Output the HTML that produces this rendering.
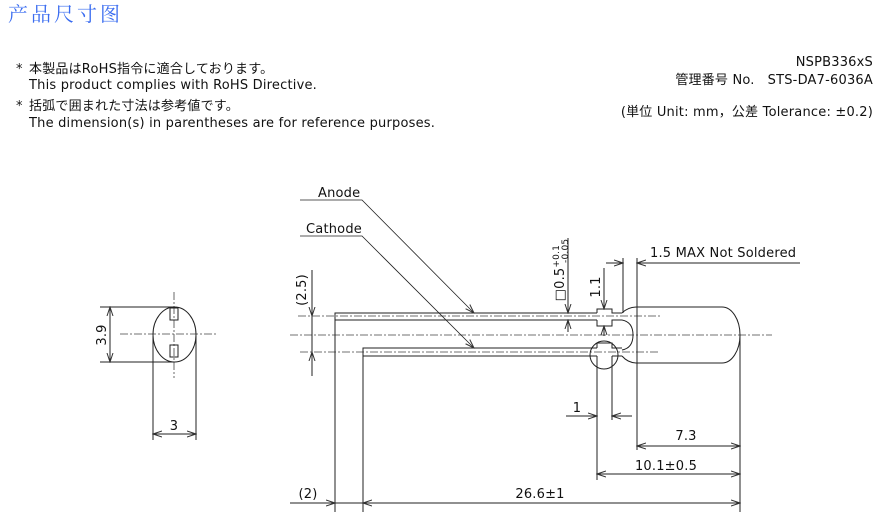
<!DOCTYPE html>
<html><head><meta charset="utf-8"><style>
body{margin:0;background:#fff;width:887px;height:526px;overflow:hidden}
svg{display:block}
text{font-family:"DejaVu Sans","Noto Sans CJK JP",sans-serif;font-size:13px;fill:#111;letter-spacing:0.2px}
</style></head><body>
<svg width="887" height="526" viewBox="0 0 887 526" xmlns="http://www.w3.org/2000/svg">
<defs>
<marker id="a" markerWidth="10" markerHeight="8" refX="9" refY="4" orient="auto" markerUnits="userSpaceOnUse">
<path d="M0,1 L9,4 L0,7" fill="none" stroke="#333" stroke-width="1"/></marker>
</defs>
<text x="8" y="21" style="font-family:'Noto Serif CJK SC',serif;font-size:20px;fill:#3a6cf0;letter-spacing:3px">产品尺寸图</text>
<text x="16" y="73">*</text><text x="29" y="73">本製品はRoHS指令に適合しております。</text>
<text x="29" y="89">This product complies with RoHS Directive.</text>
<text x="16" y="110">*</text><text x="29" y="110">括弧で囲まれた寸法は参考値です。</text>
<text x="29" y="127">The dimension(s) in parentheses are for reference purposes.</text>
<text x="873" y="66" text-anchor="end">NSPB336xS</text>
<text x="873" y="84" text-anchor="end" xml:space="preserve">管理番号 No.   STS-DA7-6036A</text>
<text x="873" y="116" text-anchor="end">(単位 Unit: mm，公差 Tolerance: ±0.2)</text>

<g fill="none" stroke="#222" stroke-width="1">
<g stroke="#444" stroke-dasharray="8,2,2,2" stroke-width="0.8">
<line x1="290" y1="335" x2="772" y2="335"/>
<line x1="298" y1="316" x2="660" y2="316"/>
<line x1="300" y1="352" x2="660" y2="352"/>
<line x1="120" y1="334" x2="218" y2="334"/>
<line x1="174" y1="292" x2="174" y2="378"/>
</g>
<path d="M335,512 V313 H597 M335,320 H597"/>
<path d="M363,512 V348 H597 M363,356 H597"/>
<path d="M597,313 V309 H612 V313 H622 M597,320 V326 H612 V320 H622"/>
<path d="M597,348 V343 H612 V348 H622 M612,356 H622"/>
<path d="M597,356 V480 M612,356 V420"/>
<circle cx="604" cy="355" r="14"/>
<path d="M622,313 Q628,307 637,307 H722 A18,28 0 0 1 722,363 H637 Q628,363 622,356"/>
<path d="M622,320 Q633,322 633,335 Q633,348 622,350"/>
<line x1="637" y1="307" x2="637" y2="450"/>
<line x1="623" y1="258" x2="623" y2="313"/>
<line x1="637" y1="258" x2="637" y2="307"/>
<line x1="740" y1="335" x2="740" y2="512"/>
<line x1="606" y1="263" x2="623" y2="263" marker-end="url(#a)"/>
<line x1="800" y1="263" x2="637" y2="263" marker-end="url(#a)"/>
<line x1="568" y1="238" x2="568" y2="313" marker-end="url(#a)"/>
<line x1="568" y1="332" x2="568" y2="320" marker-end="url(#a)"/>
<line x1="604" y1="268" x2="604" y2="309" marker-end="url(#a)"/>
<line x1="604" y1="336" x2="604" y2="326" marker-end="url(#a)"/>
<line x1="312" y1="270" x2="312" y2="316" marker-end="url(#a)"/>
<line x1="312" y1="376" x2="312" y2="352" marker-end="url(#a)"/>
<line x1="312" y1="316" x2="312" y2="352"/>
<line x1="566" y1="416" x2="597" y2="416" marker-end="url(#a)"/>
<line x1="632" y1="416" x2="612" y2="416" marker-end="url(#a)"/>
<line x1="690" y1="446" x2="637" y2="446" marker-end="url(#a)"/>
<line x1="690" y1="446" x2="740" y2="446" marker-end="url(#a)"/>
<line x1="670" y1="474" x2="597" y2="474" marker-end="url(#a)"/>
<line x1="670" y1="474" x2="740" y2="474" marker-end="url(#a)"/>
<line x1="500" y1="503" x2="363" y2="503" marker-end="url(#a)"/>
<line x1="500" y1="503" x2="740" y2="503" marker-end="url(#a)"/>
<line x1="290" y1="503" x2="335" y2="503" marker-end="url(#a)"/>
<line x1="335" y1="503" x2="363" y2="503"/>
<path d="M300,200 H362 L474,313" stroke-width="0.8" marker-end="url(#a)"/>
<path d="M300,236 H362 L474,348" stroke-width="0.8" marker-end="url(#a)"/>
<ellipse cx="174.5" cy="334.5" rx="21.5" ry="27.5"/>
<rect x="170" y="308" width="8" height="12"/>
<rect x="170" y="345" width="8" height="12"/>
<line x1="100" y1="307" x2="175" y2="307"/>
<line x1="100" y1="362" x2="175" y2="362"/>
<line x1="110" y1="334" x2="110" y2="307" marker-end="url(#a)"/>
<line x1="110" y1="334" x2="110" y2="362" marker-end="url(#a)"/>
<line x1="153" y1="336" x2="153" y2="440"/>
<line x1="196" y1="336" x2="196" y2="440"/>
<line x1="174" y1="434" x2="153" y2="434" marker-end="url(#a)"/>
<line x1="174" y1="434" x2="196" y2="434" marker-end="url(#a)"/>
</g>
<text x="318" y="197">Anode</text>
<text x="306" y="233">Cathode</text>
<text x="650" y="257">1.5 MAX Not Soldered</text>
<text x="106" y="335" text-anchor="middle" transform="rotate(-90 106 335)">3.9</text>
<text x="174" y="430" text-anchor="middle">3</text>
<text x="306" y="290" text-anchor="middle" transform="rotate(-90 306 290)">(2.5)</text>
<text x="564" y="270" text-anchor="middle" transform="rotate(-90 564 270)">□0.5<tspan dy="-5" font-size="9">+0.1</tspan><tspan dx="-18" dy="9" font-size="9">-0.05</tspan></text>
<text x="600" y="287" text-anchor="middle" transform="rotate(-90 600 287)">1.1</text>
<text x="577" y="412" text-anchor="middle">1</text>
<text x="686" y="440" text-anchor="middle">7.3</text>
<text x="666" y="470" text-anchor="middle">10.1±0.5</text>
<text x="540" y="498" text-anchor="middle">26.6±1</text>
<text x="308" y="498" text-anchor="middle">(2)</text>
</svg>
</body></html>
